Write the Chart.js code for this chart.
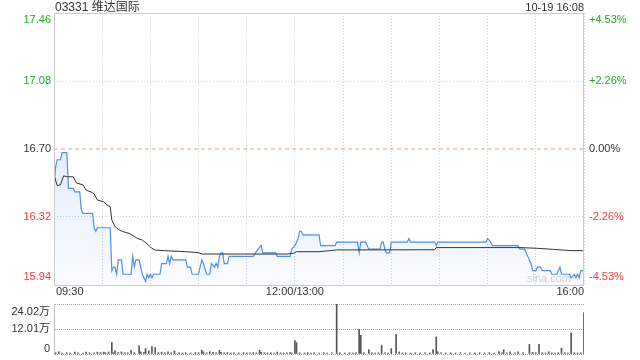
<!DOCTYPE html>
<html><head><meta charset="utf-8">
<script src="https://cdn.jsdelivr.net/npm/chart.js@4.4.1/dist/chart.umd.min.js"></script>
<style>
html,body{margin:0;padding:0;background:#fff;overflow:hidden}
#wrap{position:relative;width:640px;height:360px}
canvas{position:absolute;left:0}
#c1{top:0}#c2{top:300px}
</style></head>
<body><div id="wrap"><canvas id="c1" width="640" height="300"></canvas><canvas id="c2" width="640" height="60"></canvas></div>
<script>
const stockTitle = '03331 维达国际';
const stamp = '10-19 16:08';
const prevClose = 16.70;
const priceTicks = [17.46, 17.08, 16.70, 16.32, 15.94];
const pctLabels = ['+4.53%', '+2.26%', '0.00%', '-2.26%', '-4.53%'];
const timeTicks = [0, 150, 330];
const timeLabels = ['09:30', '12:00/13:00', '16:00'];

const priceMin = [0,1,2,4,5,8,9,12,13,16,17,18,24,25,26,27,35,36,37,38,39,40,42,43,48,49,50,51,53,54,55,56,57,58,59,60,61,62,66,67,70,71,72,73,74,82,83,85,86,90,92,93,95,97,98,100,101,102,103,104,105,106,108,109,124,127,129,130,138,139,147,148,150,151,152,153,154,155,165,166,175,176,189,190,191,194,196,203,204,205,206,207,209,210,220,221,222,237,238,239,269,270,272,273,289,290,293,294,295,296,297,298,300,301,303,304,309,310,313,314,315,316,321,322,324,325,326,327,328,330];
const priceVal = [16.48,16.60,16.64,16.64,16.68,16.68,16.48,16.48,16.46,16.46,16.36,16.34,16.34,16.26,16.24,16.26,16.26,16.02,16.04,16.04,16.00,16.08,16.08,16.00,16.00,16.10,16.04,16.08,16.08,16.04,16.00,15.98,15.96,16.00,15.98,16.00,15.98,16.00,16.00,16.06,16.06,16.10,16.06,16.10,16.08,16.08,16.04,16.04,16.00,16.00,16.08,16.06,16.00,16.00,16.06,16.04,16.06,16.04,16.10,16.12,16.12,16.06,16.06,16.10,16.10,16.14,16.16,16.12,16.12,16.10,16.10,16.14,16.16,16.18,16.20,16.24,16.24,16.22,16.22,16.16,16.16,16.18,16.18,16.12,16.18,16.18,16.14,16.14,16.18,16.18,16.14,16.12,16.12,16.18,16.18,16.20,16.18,16.18,16.16,16.18,16.18,16.20,16.18,16.16,16.16,16.14,16.14,16.12,16.10,16.08,16.06,16.02,16.02,16.04,16.04,16.02,16.02,16.00,16.00,16.02,16.04,16.00,16.00,15.98,16.00,15.98,16.00,15.98,16.02,16.02];

const avgMin = [0,2,4,6,8,12,14,18,20,23,25,27,31,33,35,36,38,40,43,47,52,55,58,61,63,69,82,90,92,145,149,151,165,176,237,238,290,301,311,322,329,330];
const avgVal = [16.555,16.495,16.50,16.55,16.545,16.545,16.51,16.50,16.47,16.46,16.45,16.415,16.405,16.387,16.377,16.303,16.266,16.251,16.238,16.228,16.20,16.191,16.169,16.145,16.135,16.132,16.126,16.121,16.113,16.113,16.117,16.126,16.126,16.136,16.137,16.149,16.149,16.145,16.139,16.132,16.132,16.128];

const volMin = [1,3,5,8,10,13,15,18,20,22,25,27,29,31,32,34,36,37,38,40,42,44,46,48,50,53,54,56,57,59,61,63,65,67,69,71,73,75,78,80,82,85,88,90,92,93,95,97,99,101,103,104,106,108,110,112,115,118,120,122,124,126,128,129,131,133,135,137,139,141,143,145,147,148,150,151,153,156,158,160,162,165,168,170,173,176,178,181,184,186,188,190,191,193,196,198,200,202,204,206,208,210,213,215,217,219,222,225,228,231,234,236,238,239,241,244,247,250,253,256,259,262,265,268,271,274,277,279,280,282,284,287,289,292,296,298,300,302,304,306,308,310,312,314,316,318,320,322,324,326,328,330];
const volVal = [0.6,1.1,0.5,0.6,0.5,0.9,0.6,0.5,0.9,0.5,0.6,0.9,0.7,0.9,0.6,1.0,5.5,0.6,1.5,0.7,1.0,0.6,0.6,1.8,0.7,3.9,1.0,0.8,2.6,1.5,3.6,3.1,0.7,0.9,0.6,1.0,0.6,1.5,0.6,0.5,0.6,0.5,0.7,0.6,1.8,1.0,0.6,1.1,0.8,0.6,1.8,0.8,0.6,0.7,0.5,0.6,0.5,0.6,0.5,0.6,0.7,0.5,1.8,0.8,0.6,0.5,0.6,0.5,0.9,0.6,0.5,0.6,0.7,0.5,6.5,5.5,0.6,0.5,0.6,0.5,0.6,0.5,0.6,0.5,0.6,24.02,0.6,0.5,0.6,0.5,0.6,11.8,9.0,0.6,2.1,0.6,0.5,0.6,4.1,0.6,0.5,2.6,9.5,1.0,0.5,0.6,0.5,0.6,0.5,0.6,0.5,2.1,8.2,1.0,0.6,0.5,0.6,0.5,0.6,0.5,0.6,0.5,0.6,0.5,0.6,0.5,1.2,0.6,2.1,0.6,1.1,0.6,1.0,0.6,4.6,0.8,0.6,4.6,0.6,0.5,1.1,0.6,0.5,0.6,2.8,0.6,0.5,10.1,0.6,0.5,0.6,19.9];
const volTicks = [24.02, 12.01, 0];
const volLabels = ['24.02万', '12.01万', '0'];

const FONT = '"Liberation Sans", Arial, "Noto Sans CJK SC", sans-serif';
const UP = '#22a822', DOWN = '#f03c3c', FLAT = '#333333';
const colorFor = v => Math.abs(v - prevClose) < 1e-6 ? FLAT : (v > prevClose ? UP : DOWN);
const toPts = (xs, ys) => xs.map((x, i) => ({x, y: ys[i]}));

const pricePlugin = {
  id: 'priceDeco',
  beforeDatasetsDraw(chart) {
    const c = chart.ctx;
    c.save();
    c.font = '11px ' + FONT;
    c.fillStyle = '#d4d4d4';
    c.textAlign = 'right'; c.textBaseline = 'middle';
    c.fillText('sina.com', chart.chartArea.right - 13, 279);
    c.restore();
  },
  afterDraw(chart) {
    const c = chart.ctx, a = chart.chartArea, y = chart.scales.y, x = chart.scales.x;
    c.save();
    c.strokeStyle = '#cccccc'; c.lineWidth = 1;
    c.strokeRect(a.left + 0.5, a.top + 0.5, a.right - a.left - 1, a.bottom - a.top);
    c.font = '11px ' + FONT;
    c.textBaseline = 'middle';
    priceTicks.forEach((v, i) => {
      let py = y.getPixelForValue(v);
      if (i === 0) py += 7;
      if (i === priceTicks.length - 1) py -= 8;
      c.fillStyle = colorFor(v);
      c.textAlign = 'right';
      c.fillText(v.toFixed(2), a.left - 3, py);
      c.textAlign = 'left';
      c.fillText(pctLabels[i], a.right + 5, py);
    });
    c.fillStyle = '#333';
    timeTicks.forEach((t, i) => {
      c.textAlign = i === 0 ? 'left' : (i === timeTicks.length - 1 ? 'right' : 'center');
      const px = x.getPixelForValue(t) + (i === 0 ? 2 : 0);
      c.fillText(timeLabels[i], px, 292);
    });
    c.font = '12px ' + FONT;
    c.textAlign = 'left';
    c.fillText(stockTitle, a.left + 1, 8);
    c.font = '11px ' + FONT;
    c.textAlign = 'right';
    c.fillText(stamp, a.right, 8);
    c.restore();
  }
};

new Chart(document.getElementById('c1'), {
  type: 'line',
  data: { datasets: [
    { data: toPts(priceMin, priceVal), borderColor: '#4f8ef0', borderWidth: 1.2, pointRadius: 0, tension: 0,
      fill: { value: priceTicks[priceTicks.length - 1] },
      backgroundColor: (ctx) => {
        const ch = ctx.chart, a = ch.chartArea;
        if (!a) return 'rgba(79,142,240,0.08)';
        const g = ch.ctx.createLinearGradient(0, a.top + 130, 0, a.bottom);
        g.addColorStop(0, 'rgba(79,142,240,0.16)');
        g.addColorStop(1, 'rgba(79,142,240,0.03)');
        return g;
      }, order: 2 },
    { data: toPts(avgMin, avgVal), borderColor: '#333333', borderWidth: 1, pointRadius: 0, tension: 0, fill: false, order: 1 },
    { data: [{x: 0, y: prevClose}, {x: 330, y: prevClose}], borderColor: '#f4a070', borderWidth: 1, borderDash: [4, 3], pointRadius: 0, fill: false, order: 3 }
  ]},
  options: {
    responsive: false, animation: false, devicePixelRatio: 1,
    layout: { padding: { left: 54, right: 56, top: 13, bottom: 15 } },
    plugins: { legend: { display: false }, tooltip: { enabled: false } },
    scales: {
      x: { type: 'linear', min: 0, max: 330, ticks: { display: false, stepSize: 30 },
           grid: { color: '#cfcfcf', drawTicks: false }, border: { display: false, dash: [1, 2] },
           afterFit(s) { s.height = 0; } },
      y: { type: 'linear', min: 15.94, max: 17.46,
           afterBuildTicks(s) { s.ticks = priceTicks.map(v => ({ value: v })); },
           ticks: { display: false },
           grid: { drawTicks: false, color: (ctx) => (ctx.tick && (Math.abs(ctx.tick.value - 17.08) < 1e-6 || Math.abs(ctx.tick.value - 16.32) < 1e-6)) ? '#cfcfcf' : 'rgba(0,0,0,0)' },
           border: { display: false, dash: [1, 2] },
           afterFit(s) { s.width = 0; } }
    }
  },
  plugins: [pricePlugin]
});

const volPlugin = {
  id: 'volDeco',
  afterDraw(chart) {
    const c = chart.ctx, a = chart.chartArea, y = chart.scales.y;
    c.save();
    c.font = '11px ' + FONT;
    c.textBaseline = 'middle'; c.textAlign = 'right'; c.fillStyle = '#333';
    volTicks.forEach((v, i) => {
      let py = y.getPixelForValue(v);
      if (i === 0) py += 8;
      if (i === volTicks.length - 1) py -= 5;
      c.fillText(volLabels[i], a.left - 4, py);
    });
    c.restore();
  }
};

new Chart(document.getElementById('c2'), {
  type: 'bar',
  data: { datasets: [
    { data: toPts(volMin, volVal), backgroundColor: '#555555', barThickness: 1, borderWidth: 0 }
  ]},
  options: {
    responsive: false, animation: false, devicePixelRatio: 1,
    layout: { padding: { left: 54, right: 56, top: 4, bottom: 6 } },
    plugins: { legend: { display: false }, tooltip: { enabled: false } },
    scales: {
      x: { type: 'linear', min: 0, max: 330, offset: false, display: false, grid: { display: false, offset: false } },
      y: { type: 'linear', min: 0, max: 24.02,
           afterBuildTicks(s) { s.ticks = volTicks.map(v => ({ value: v })); },
           ticks: { display: false },
           grid: { drawTicks: false, color: '#a8a8a8', lineWidth: 1 },
           border: { display: true, color: '#c0c0c0', width: 1, dash: [1, 1] },
           afterFit(s) { s.width = 0; } }
    }
  },
  plugins: [volPlugin]
});
</script>
</body></html>
